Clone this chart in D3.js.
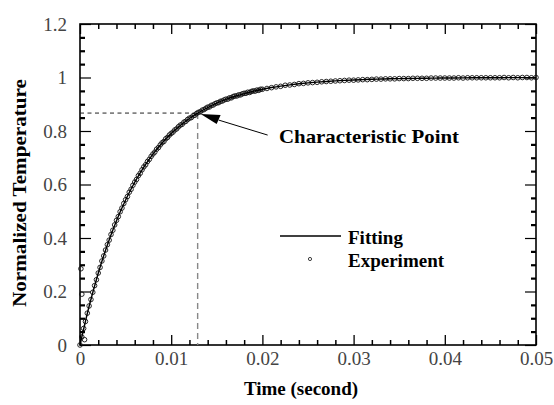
<!DOCTYPE html>
<html>
<head>
<meta charset="utf-8">
<script src="https://cdnjs.cloudflare.com/ajax/libs/d3/7.8.5/d3.min.js"></script>
<style>
	body { margin: 0; background: #fff; }
</style>
</head>
<body>
<div class="c-svg"></div>
<script>
//DATA
//-------------------------------------------------------------------------

//fitted curve, one value per 0.001 s
const fitStep = 0.001;
const fitTemp = [
	0, .1447, .2684, .3742, .4647, .5422, .6084, .6650, .7135, .7549,
	.7904, .8207, .8466, .8688, .8878, .9040, .9179, .9298, .9399, .9486,
	.9561, .9624, .9679, .9725, .9765, .9799, .9828, .9853, .9874, .9892,
	.9908, .9921, .9933, .9942, .9951, .9958, .9964, .9969, .9974, .9977,
	.9981, .9984, .9986, .9988, .9990, .9991, .9993, .9994, .9995, .9995, .9996
];

//experiment, 0 -> 0.02 s every 0.0002 s
const expStepEarly = 0.0002;
const expTempEarly = [
	0.000, 0.030, 0.062, 0.088, 0.119,
	0.146, 0.170, 0.197, 0.222, 0.244,
	0.269, 0.290, 0.314, 0.333, 0.355,
	0.375, 0.392, 0.413, 0.429, 0.449,
	0.466, 0.480, 0.498, 0.512, 0.529,
	0.543, 0.555, 0.571, 0.582, 0.597,
	0.609, 0.619, 0.633, 0.642, 0.655,
	0.666, 0.674, 0.686, 0.694, 0.705,
	0.714, 0.721, 0.732, 0.738, 0.748,
	0.756, 0.761, 0.771, 0.776, 0.785,
	0.791, 0.796, 0.804, 0.808, 0.816,
	0.822, 0.825, 0.833, 0.836, 0.843,
	0.848, 0.850, 0.857, 0.859, 0.866,
	0.870, 0.872, 0.878, 0.880, 0.885,
	0.889, 0.890, 0.896, 0.897, 0.902,
	0.905, 0.906, 0.911, 0.912, 0.916,
	0.919, 0.919, 0.924, 0.924, 0.929,
	0.931, 0.931, 0.935, 0.935, 0.939,
	0.941, 0.941, 0.945, 0.944, 0.948,
	0.950, 0.949, 0.953, 0.952, 0.956,
	0.956
];

//experiment, 0.0205 -> 0.05 s every 0.0005 s
const expStartLate = 0.0205;
const expStepLate = 0.0005;
const expTempLate = [
	.959, .962, .965, .967, .971, .972, .974, .977, .978, .980,
	.981, .982, .984, .985, .986, .987, .988, .989, .990, .990,
	.991, .992, .992, .993, .994, .994, .995, .995, .995, .996,
	.996, .996, .997, .997, .997, .997, .998, .998, .998, .998,
	.998, .998, .999, .998, .999, .999, .999, .999, .999, .999,
	.999, .999, 1.000, .999, 1.000, .999, 1.000, 1.000, .999, 1.000
];

//stray readings at the very start
const strayTime = [0.0001, 0.0002, 0.0005];
const strayTemp = [0.285, 0.19, 0.02];

//characteristic point
const charTime = 0.0129;
const charTemp = 0.867;

//ticks
const xMajor = [0, 0.01, 0.02, 0.03, 0.04, 0.05];
const xLabels = ["0", "0.01", "0.02", "0.03", "0.04", "0.05"];
const yMajor = [0, 0.2, 0.4, 0.6, 0.8, 1, 1.2];
const yLabels = ["0", "0.2", "0.4", "0.6", "0.8", "1", "1.2"];


//INITIALISATION
//-------------------------------------------------------------------------

//single family name, lists fall back to sans here
const serif = "Liberation Serif";

const opts = {
	width: 554,
	height: 405,
	left: 80,
	right: 536,
	top: 24,
	bottom: 345
};

const x = d3.scaleLinear().domain([0, 0.05]).range([opts.left, opts.right]);
const y = d3.scaleLinear().domain([0, 1.2]).range([opts.bottom, opts.top]);

const xMinor = d3.range(0, 26).map(i => i * 0.002).filter(v => !xMajor.some(m => Math.abs(m - v) < 1e-9));
const yMinor = d3.range(0, 25).map(i => i * 0.05).filter(v => !yMajor.some(m => Math.abs(m - v) < 1e-9));

const svg = d3.select(".c-svg")
	.append("svg")
	.attr("width", opts.width)
	.attr("height", opts.height)
	.attr("font-family", serif);


//AXES
//-------------------------------------------------------------------------

function styleAxis(sel, w){
	sel.attr("font-family", serif);
	sel.select(".domain").remove();
	sel.selectAll(".tick line").attr("stroke", "#000").attr("stroke-width", w);
}

//bottom
svg.append("g")
	.attr("transform", `translate(0 ${opts.bottom})`)
	.call(d3.axisBottom(x).tickValues(xMajor).tickSize(-10).tickPadding(7)
		.tickFormat((d, i) => xLabels[i]))
	.call(g => styleAxis(g, 1.3))
	.call(g => g.selectAll("text").attr("font-size", 19).attr("fill", "#444"));
svg.append("g")
	.attr("transform", `translate(0 ${opts.bottom})`)
	.call(d3.axisBottom(x).tickValues(xMinor).tickSize(-5).tickFormat(""))
	.call(g => styleAxis(g, 1.5));

//top
svg.append("g")
	.attr("transform", `translate(0 ${opts.top})`)
	.call(d3.axisTop(x).tickValues(xMajor).tickSize(-10).tickFormat(""))
	.call(g => styleAxis(g, 1.3));
svg.append("g")
	.attr("transform", `translate(0 ${opts.top})`)
	.call(d3.axisTop(x).tickValues(xMinor).tickSize(-5).tickFormat(""))
	.call(g => styleAxis(g, 1.5));

//left
svg.append("g")
	.attr("transform", `translate(${opts.left} 0)`)
	.call(d3.axisLeft(y).tickValues(yMajor).tickSize(-11).tickPadding(13)
		.tickFormat((d, i) => yLabels[i]))
	.call(g => styleAxis(g, 1.2))
	.call(g => g.selectAll("text").attr("font-size", 19).attr("fill", "#444"));
svg.append("g")
	.attr("transform", `translate(${opts.left} 0)`)
	.call(d3.axisLeft(y).tickValues(yMinor).tickSize(-5).tickFormat(""))
	.call(g => styleAxis(g, 2.2));

//right
svg.append("g")
	.attr("transform", `translate(${opts.right} 0)`)
	.call(d3.axisRight(y).tickValues(yMajor).tickSize(-11).tickFormat(""))
	.call(g => styleAxis(g, 1.2));
svg.append("g")
	.attr("transform", `translate(${opts.right} 0)`)
	.call(d3.axisRight(y).tickValues(yMinor).tickSize(-5).tickFormat(""))
	.call(g => styleAxis(g, 2.2));

//frame
svg.append("rect")
	.attr("x", opts.left)
	.attr("y", opts.top)
	.attr("width", opts.right - opts.left)
	.attr("height", opts.bottom - opts.top)
	.attr("fill", "none")
	.attr("stroke", "#000")
	.attr("stroke-width", 1.6);


//CHARACTERISTIC POINT GUIDES
//-------------------------------------------------------------------------

svg.append("line")
	.attr("x1", x(0)).attr("x2", x(charTime))
	.attr("y1", y(charTemp)).attr("y2", y(charTemp))
	.attr("stroke", "#222")
	.attr("stroke-width", 1)
	.attr("stroke-dasharray", "4,3.5");

svg.append("line")
	.attr("x1", x(charTime)).attr("x2", x(charTime))
	.attr("y1", y(charTemp)).attr("y2", y(0))
	.attr("stroke", "#888")
	.attr("stroke-width", 1.4)
	.attr("stroke-dasharray", "6,4");


//DATA MARKS
//-------------------------------------------------------------------------

const expData = expTempEarly.map((v, i) => [i * expStepEarly, v])
	.concat(expTempLate.map((v, i) => [expStartLate + i * expStepLate, v]))
	.concat(strayTemp.map((v, i) => [strayTime[i], v]));

svg.append("g")
	.selectAll("circle")
	.data(expData)
	.join("circle")
	.attr("cx", d => x(d[0]))
	.attr("cy", d => y(d[1]))
	.attr("r", 2.3)
	.attr("fill", "none")
	.attr("stroke", "#111")
	.attr("stroke-width", 0.9);

const fitLine = d3.line()
	.x((d, i) => x(i * fitStep))
	.y(d => y(d))
	.curve(d3.curveMonotoneX);

svg.append("path")
	.datum(fitTemp)
	.attr("d", fitLine)
	.attr("fill", "none")
	.attr("stroke", "#000")
	.attr("stroke-width", 1.4);


//ANNOTATION
//-------------------------------------------------------------------------

const tipX = x(charTime) + 3;
const tipY = y(charTemp) + 1;

svg.append("line")
	.attr("x1", tipX + 18).attr("y1", tipY + 6)
	.attr("x2", tipX + 67).attr("y2", tipY + 21)
	.attr("stroke", "#000")
	.attr("stroke-width", 1);

svg.append("path")
	.attr("d", `M${tipX},${tipY} L${tipX + 20},${tipY + 1} L${tipX + 16},${tipY + 10} Z`)
	.attr("fill", "#000");

svg.append("text")
	.attr("x", 279)
	.attr("y", 143)
	.attr("font-family", serif)
	.attr("font-size", 19)
	.attr("font-weight", "bold")
	.attr("textLength", 180)
	.attr("lengthAdjust", "spacingAndGlyphs")
	.text("Characteristic Point");


//LEGEND
//-------------------------------------------------------------------------

svg.append("line")
	.attr("x1", 280).attr("x2", 341)
	.attr("y1", 236).attr("y2", 236)
	.attr("stroke", "#000")
	.attr("stroke-width", 1.3);

svg.append("circle")
	.attr("cx", 310).attr("cy", 259)
	.attr("r", 1.6)
	.attr("fill", "none")
	.attr("stroke", "#111")
	.attr("stroke-width", 0.8);

svg.append("text")
	.attr("x", 348).attr("y", 244)
	.attr("font-family", serif)
	.attr("font-size", 19)
	.attr("font-weight", "bold")
	.text("Fitting");

svg.append("text")
	.attr("x", 348).attr("y", 267)
	.attr("font-family", serif)
	.attr("font-size", 19)
	.attr("font-weight", "bold")
	.text("Experiment");


//AXIS TITLES
//-------------------------------------------------------------------------

svg.append("text")
	.attr("x", 301).attr("y", 395)
	.attr("text-anchor", "middle")
	.attr("font-family", serif)
	.attr("font-size", 19)
	.attr("font-weight", "bold")
	.text("Time (second)");

svg.append("text")
	.attr("transform", "translate(26 193) rotate(-90)")
	.attr("text-anchor", "middle")
	.attr("font-family", serif)
	.attr("font-size", 19)
	.attr("font-weight", "bold")
	.attr("textLength", 228)
	.attr("lengthAdjust", "spacingAndGlyphs")
	.text("Normalized Temperature");
</script>
</body>
</html>
